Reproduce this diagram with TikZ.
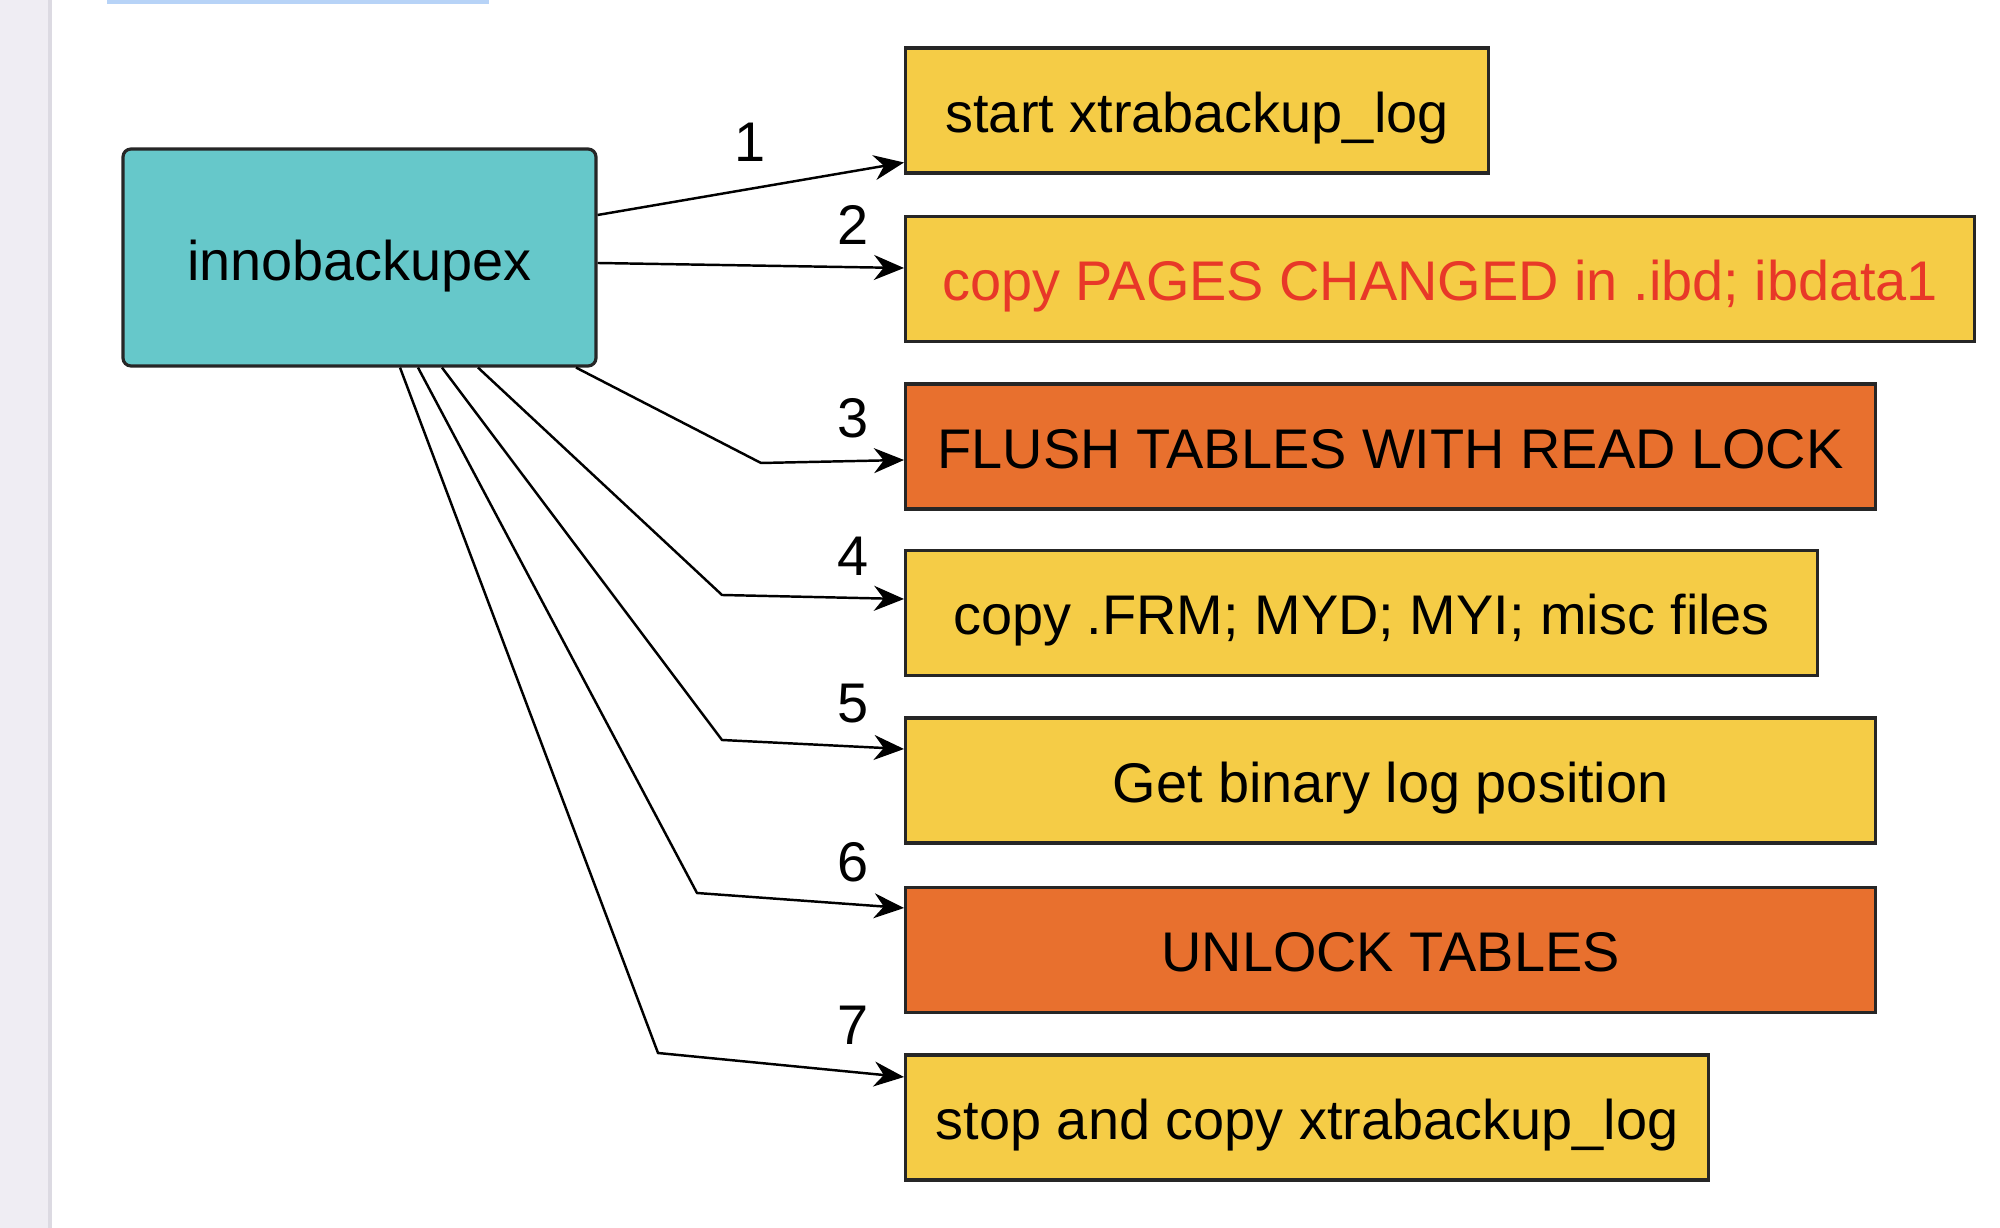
\documentclass[tikz,border=0pt]{standalone}
\usepackage{fontspec}
\setmainfont{Liberation Sans}
\usepackage{xcolor}
\usetikzlibrary{arrows.meta}
\definecolor{TealBox}{RGB}{102,200,202}
\definecolor{SunYellow}{RGB}{245,204,70}
\definecolor{BurntOrange}{RGB}{232,112,46}
\definecolor{AlarmRed}{RGB}{232,56,40}
\definecolor{PageGray}{RGB}{239,237,243}
\definecolor{EdgeGray}{RGB}{220,218,226}
\definecolor{SelBlue}{RGB}{183,211,247}

\begin{document}
\begin{tikzpicture}[
  every node/.style={font=\fontsize{15.9}{19}\selectfont},
  mainbox/.style={draw=black!85, line width=0.9pt, fill=TealBox, rounded corners=0.08cm,
    minimum width=4.73cm, minimum height=2.17cm, text height=0.46cm, text depth=0cm},
  taskbox/.style={draw=black!85, line width=0.9pt, anchor=west, minimum height=1.25cm, inner sep=0pt,
    text height=0.44cm, text depth=0cm},
  yellowbox/.style={taskbox, fill=SunYellow},
  orangebox/.style={taskbox, fill=BurntOrange},
  flow/.style={line width=0.7pt, -{Stealth[length=0.3cm,width=0.25cm]}},
  numlabel/.style={inner sep=0pt}
]
\useasboundingbox (0,0) rectangle (20,-12.28);
%PAGE
\fill[PageGray] (0,0) rectangle (0.49,-12.28);
\draw[EdgeGray, line width=1.2pt] (0.50,0) -- (0.50,-12.28);
\fill[SelBlue] (1.07,0) rectangle (4.89,-0.045);
%NODES
\node[mainbox] (inno) at (3.595,-2.575) {innobackupex};
\node[yellowbox, minimum width=5.83cm] (s1) at (9.04,-1.105) {start xtrabackup\_log};
\node[yellowbox, minimum width=10.69cm, text=AlarmRed] (s2) at (9.04,-2.79) {copy PAGES CHANGED in .ibd; ibdata1};
\node[orangebox, minimum width=9.70cm] (s3) at (9.04,-4.465) {FLUSH TABLES WITH READ LOCK};
\node[yellowbox, minimum width=9.12cm] (s4) at (9.04,-6.13) {copy .FRM; MYD; MYI; misc files};
\node[yellowbox, minimum width=9.70cm] (s5) at (9.04,-7.805) {Get binary log position};
\node[orangebox, minimum width=9.70cm] (s6) at (9.04,-9.50) {UNLOCK TABLES};
\node[yellowbox, minimum width=8.03cm] (s7) at (9.04,-11.175) {stop and copy xtrabackup\_log};
%ARROWS
\draw[flow] ([yshift=0.425cm]inno.east) -- ([yshift=-0.52cm]s1.west);
\draw[flow] ([yshift=-0.055cm]inno.east) -- ([yshift=0.11cm]s2.west);
\draw[flow] ([xshift=2.165cm]inno.south) -- (7.61,-4.63) -- ([yshift=-0.135cm]s3.west);
\draw[flow] ([xshift=1.185cm]inno.south) -- (7.22,-5.95) -- ([yshift=0.14cm]s4.west);
\draw[flow] ([xshift=0.825cm]inno.south) -- (7.22,-7.40) -- ([yshift=0.315cm]s5.west);
\draw[flow] ([xshift=0.585cm]inno.south) -- (6.97,-8.93) -- ([yshift=0.42cm]s6.west);
\draw[flow] ([xshift=0.405cm]inno.south) -- (6.58,-10.53) -- ([yshift=0.405cm]s7.west);
%NUMBERS
\node[numlabel] (n1) at (7.50,-1.42) {1};
\node[numlabel] (n2) at (8.53,-2.25) {2};
\node[numlabel] (n3) at (8.53,-4.18) {3};
\node[numlabel] (n4) at (8.53,-5.56) {4};
\node[numlabel] (n5) at (8.53,-7.04) {5};
\node[numlabel] (n6) at (8.53,-8.62) {6};
\node[numlabel] (n7) at (8.53,-10.25) {7};
\end{tikzpicture}
\end{document}
